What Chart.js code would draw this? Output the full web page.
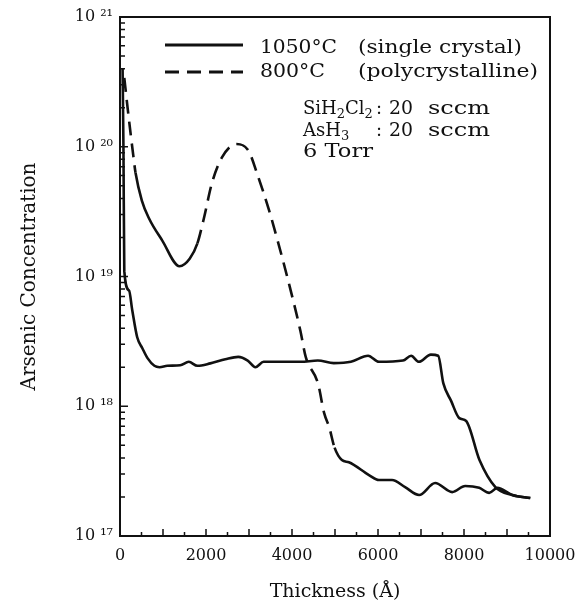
<!DOCTYPE html>
<html><head><meta charset="utf-8">
<script src="https://cdn.jsdelivr.net/npm/chart.js@4.4.1/dist/chart.umd.min.js"></script>
<style>html,body{margin:0;padding:0;background:#fff}#wrap{width:580px;height:610px;position:relative}</style>
</head><body><div id="wrap"><canvas id="c"></canvas></div>
<script>
// ---- data ----
const thickness1050 = [60, 80, 100, 210, 285, 400, 520, 640, 800, 920, 1100, 1400, 1600, 1800, 2100, 2450, 2750, 2970, 3150, 3340, 3800, 4200, 4600, 4970, 5370, 5770, 6020, 6580, 6770, 6950, 7230, 7400, 7520, 7700, 7890, 8050, 8360, 8730, 9120, 9540];
const conc1050 = [4e20, 1e20, 1.1e19, 7.8e18, 5.5e18, 3.4e18, 2.8e18, 2.35e18, 2.05e18, 2.0e18, 2.05e18, 2.07e18, 2.2e18, 2.05e18, 2.14e18, 2.3e18, 2.4e18, 2.25e18, 2.0e18, 2.2e18, 2.2e18, 2.2e18, 2.25e18, 2.15e18, 2.2e18, 2.45e18, 2.2e18, 2.25e18, 2.45e18, 2.2e18, 2.5e18, 2.45e18, 1.5e18, 1.1e18, 8.1e17, 7.7e17, 3.85e17, 2.38e17, 2.07e17, 1.96e17];
const thickness800 = [100, 180, 310, 361, 508, 676, 980, 1385, 1620, 1800, 1950, 2135, 2364, 2709, 2990, 3182, 3471, 3664, 3953, 4196, 4319, 4604, 4750, 4865, 4990, 5160, 5323, 5790, 6023, 6326, 6630, 6956, 7329, 7725, 8028, 8354, 8587, 8774, 9124, 9543];
const conc800 = [3.4e20, 1.95e20, 8.5e19, 6.3e19, 3.85e19, 2.8e19, 1.9e19, 1.2e19, 1.37e19, 1.8e19, 2.8e19, 5.2e19, 8.2e19, 1.05e20, 9.3e19, 6.3e19, 3.2e19, 1.9e19, 8.2e18, 3.8e18, 2.4e18, 1.5e18, 8.8e17, 6.9e17, 4.8e17, 3.85e17, 3.7e17, 2.95e17, 2.7e17, 2.7e17, 2.38e17, 2.07e17, 2.56e17, 2.18e17, 2.43e17, 2.35e17, 2.15e17, 2.35e17, 2.07e17, 1.96e17];
const seriesLabels = ['1050°C (single crystal)', '800°C (polycrystalline)'];
const legendTemps = ['1050°C', '800°C'];
const legendNotes = ['(single crystal)', '(polycrystalline)'];
const conditionGases = [[['SiH', 0], ['2', 1], ['Cl', 0], ['2', 1]], [['AsH', 0], ['3', 1]]];
const conditionFlow = '20';
const conditionUnit = 'sccm';
const conditionPressure = '6 Torr';
const xTitle = 'Thickness (Å)';
const yTitle = 'Arsenic Concentration';
const supDigits = {'0':'\u2070','1':'\u00B9','2':'\u00B2','3':'\u00B3','4':'\u2074','5':'\u2075','6':'\u2076','7':'\u2077','8':'\u2078','9':'\u2079'};

const FONT = '"DejaVu Serif", "Liberation Serif", serif';
const toPts = (xs, ys) => xs.map((v, i) => ({x: v, y: ys[i]}));

// draw text stretched horizontally to a target width (scan is horizontally wide)
function fitText(ctx, text, x, y, w) {
  const m = ctx.measureText(text).width;
  const k = w ? w / m : 1;
  ctx.save();
  ctx.translate(x, y);
  ctx.scale(k, 1);
  ctx.fillText(text, 0, 0);
  ctx.restore();
  return m * k;
}

const decor = {
  id: 'decor',
  afterDraw(chart) {
    const {ctx, chartArea: a, scales: {x, y}} = chart;
    ctx.save();
    ctx.strokeStyle = '#111';
    ctx.fillStyle = '#111';
    ctx.lineWidth = 2;
    ctx.strokeRect(a.left, a.top, a.right - a.left, a.bottom - a.top);
    ctx.lineWidth = 1.5;
    ctx.beginPath();
    for (let v = 500; v < 10000; v += 500) {
      const px = x.getPixelForValue(v);
      const len = v % 1000 === 0 ? 7 : 4;
      ctx.moveTo(px, a.bottom); ctx.lineTo(px, a.bottom - len);
    }
    for (let d = 17; d < 21; d++) {
      for (let m = 1; m <= 9; m++) {
        if (d === 17 && m === 1) continue;
        const py = y.getPixelForValue(m * Math.pow(10, d));
        const len = m === 1 ? 8 : 5;
        ctx.moveTo(a.left, py); ctx.lineTo(a.left + len, py);
      }
    }
    ctx.stroke();

    ctx.textAlign = 'left';
    ctx.textBaseline = 'alphabetic';
    // legend
    const rows = [45, 72];
    const baselines = [53, 77];
    const tempW = [77, 65];
    const noteW = [164, 180];
    chart.data.datasets.forEach((ds, i) => {
      ctx.lineWidth = 3;
      ctx.setLineDash(ds.borderDash || []);
      ctx.beginPath();
      ctx.moveTo(165, rows[i]); ctx.lineTo(243, rows[i]);
      ctx.stroke();
      ctx.setLineDash([]);
      ctx.font = '19px ' + FONT;
      fitText(ctx, legendTemps[i], 260, baselines[i], tempW[i]);
      fitText(ctx, legendNotes[i], 358, baselines[i], noteW[i]);
    });

    // conditions
    const cb = [114, 136, 157];
    conditionGases.forEach((parts, i) => {
      let cx = 303;
      parts.forEach(([t, sub]) => {
        ctx.font = (sub ? '13px ' : '18px ') + FONT;
        cx += fitText(ctx, t, cx, cb[i] + (sub ? 4 : 0), 0);
      });
      ctx.font = '18px ' + FONT;
      fitText(ctx, ':', 376, cb[i], 0);
      fitText(ctx, conditionFlow, 389, cb[i], 24);
      fitText(ctx, conditionUnit, 428, cb[i], 62);
    });
    ctx.font = '18px ' + FONT;
    fitText(ctx, conditionPressure, 303, cb[2], 70);
    ctx.restore();
  }
};

new Chart(document.getElementById('c'), {
  type: 'line',
  data: {
    datasets: [
      {
        label: seriesLabels[0],
        data: toPts(thickness1050, conc1050),
        borderColor: '#111', borderWidth: 2.6, pointRadius: 0, cubicInterpolationMode: 'monotone', fill: false
      },
      {
        label: seriesLabels[1],
        data: toPts(thickness800, conc800),
        borderColor: '#111', borderWidth: 2.6, pointRadius: 0, cubicInterpolationMode: 'monotone', fill: false,
        borderDash: [14, 8],
        segment: {
          borderDash: c => {
            const x0 = c.p0.parsed.x;
            return ((x0 >= 361 && x0 < 1750) || x0 >= 4900) ? [] : [14, 8];
          }
        }
      }
    ]
  },
  options: {
    responsive: true,
    maintainAspectRatio: false,
    animation: false,
    layout: {padding: {top: 17, right: 30, bottom: 0, left: 0}},
    plugins: {legend: {display: false}, tooltip: {enabled: false}},
    scales: {
      x: {
        type: 'linear', min: 0, max: 10000,
        afterFit: s => { s.height = 74; s.paddingLeft = 0; s.paddingRight = 0; },
        grid: {drawOnChartArea: false, drawTicks: false},
        border: {display: false},
        ticks: {
          stepSize: 2000, autoSkip: false, maxRotation: 0, padding: 10,
          color: '#111', font: {family: FONT, size: 16},
          callback: v => String(v)
        },
        title: {display: true, text: xTitle, color: '#111', font: {family: FONT, size: 19}, padding: {top: 0, bottom: 7}}
      },
      y: {
        type: 'logarithmic', min: 1e17, max: 1e21,
        afterFit: s => { s.width = 120; s.paddingTop = 0; s.paddingBottom = 0; },
        grid: {drawOnChartArea: false, drawTicks: false},
        border: {display: false},
        ticks: {
          autoSkip: false, padding: 7, color: '#111', font: {family: FONT, size: 16},
          callback: v => {
            const e = Math.log10(v);
            if (Math.abs(e - Math.round(e)) > 1e-6) return '';
            return '10 ' + String(Math.round(e)).split('').map(d => supDigits[d]).join('');
          }
        },
        title: {display: true, text: yTitle, color: '#111', font: {family: FONT, size: 20}, padding: {top: 18, bottom: 0}}
      }
    }
  },
  plugins: [decor]
});
</script>
</body></html>
